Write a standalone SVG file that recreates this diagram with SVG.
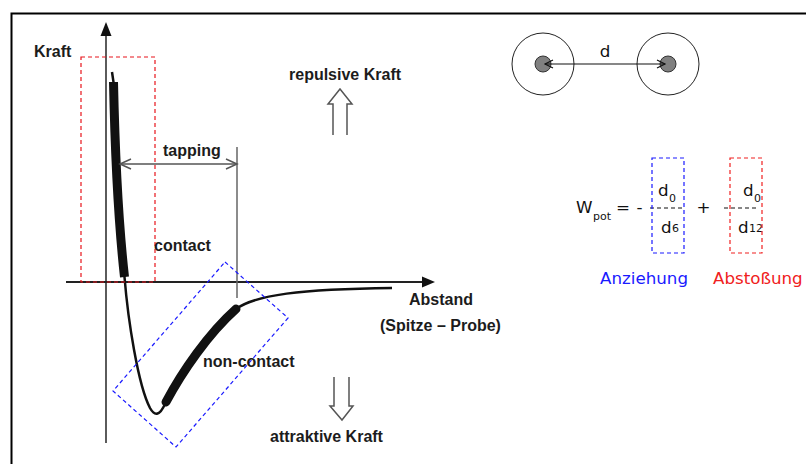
<svg xmlns="http://www.w3.org/2000/svg" width="806" height="464" viewBox="0 0 806 464">
  <style>
    .lbl { font-family: "Liberation Sans", Arial, sans-serif; font-weight: bold; font-size: 16px; fill: #1c1c1c; }
    .f { font-family: "DejaVu Sans", Verdana, sans-serif; font-size: 16.7px; fill: #111; }
    .sm { font-size: 11px; }
    .thin { fill: none; stroke: #555; stroke-width: 1.5; }
    .dash { fill: none; stroke-width: 1.2; stroke-dasharray: 4 3; }
  </style>

  <rect width="806" height="464" fill="#fff"/>
  <!-- frame -->
  <path d="M11.5,464 V13.5 H806" fill="none" stroke="#000" stroke-width="2"/>

  <!-- axes -->
  <g id="axes">
    <line x1="106" y1="34" x2="106" y2="443" stroke="#333" stroke-width="1.6"/>
    <polygon points="106,22 100.5,36 111.5,36" fill="#111"/>
    <line x1="66" y1="282" x2="424" y2="282" stroke="#222" stroke-width="1.8"/>
    <polygon points="435,282 422,276.5 422,287.5" fill="#111"/>
    <text class="lbl" x="34" y="57">Kraft</text>
    <text class="lbl" x="409" y="305">Abstand</text>
    <text class="lbl" x="380" y="331">(Spitze – Probe)</text>
  </g>

  <!-- potential curve -->
  <g id="curve" fill="none" stroke="#111">
    <path d="M112,72 L113.5,82 Q116,200 124.5,277 C128,320 138,385 150,408 C155,417 160,415 165,404 C180,375 205,335 236,309 C255,295 300,289 392,288" stroke-width="2.5"/>
    <path d="M113.5,82 Q116,200 124.5,277" stroke-width="9"/>
    <path d="M166,402 C182,372 208,334 236,309" stroke-width="9" stroke-linecap="round"/>
  </g>

  <!-- contact region -->
  <g id="contact">
    <rect class="dash" x="81" y="57" width="74" height="225" stroke="#e8141c"/>
    <text class="lbl" x="154" y="251">contact</text>
  </g>

  <!-- tapping range -->
  <g id="tapping">
    <line x1="237" y1="147" x2="237" y2="298" stroke="#666" stroke-width="1.5"/>
    <line x1="120" y1="164" x2="237" y2="164" stroke="#555" stroke-width="1.5"/>
    <path class="thin" d="M131,159 L120,164 L131,169 M226,159 L237,164 L226,169"/>
    <text class="lbl" x="163" y="156">tapping</text>
  </g>

  <!-- non-contact region -->
  <g id="non-contact">
    <polygon class="dash" points="225,262 288,318 176,447 113,391" stroke="#1a1aff"/>
    <text class="lbl" x="203" y="367">non-contact</text>
  </g>

  <!-- force direction arrows -->
  <g id="repulsive">
    <text class="lbl" x="289" y="80">repulsive Kraft</text>
    <path class="thin" d="M333,135 V104 H328 L340,89 L352,104 H347 V135"/>
  </g>
  <g id="attractive">
    <path class="thin" d="M334,377 V406 H330 L342,420 L353,406 H349 V377"/>
    <text class="lbl" x="270" y="442">attraktive Kraft</text>
  </g>

  <!-- two atoms at distance d -->
  <g id="atoms">
    <circle cx="543" cy="64" r="31" fill="none" stroke="#222" stroke-width="1"/>
    <circle cx="668" cy="64" r="31" fill="none" stroke="#222" stroke-width="1"/>
    <circle cx="543" cy="64" r="8" fill="#808080" stroke="#333" stroke-width="1"/>
    <circle cx="668" cy="64" r="8" fill="#808080" stroke="#333" stroke-width="1"/>
    <line x1="545" y1="64" x2="665" y2="64" stroke="#111" stroke-width="1.2"/>
    <path d="M553,60 L545,64 L553,68 M657,60 L665,64 L657,68" fill="none" stroke="#111" stroke-width="1.2"/>
    <text class="f" x="605" y="57" text-anchor="middle">d</text>
  </g>

  <!-- Lennard-Jones style potential -->
  <g id="formula">
    <text class="f" x="576" y="213">W</text>
    <text class="f sm" x="593" y="220">pot</text>
    <text class="f" x="623" y="213" text-anchor="middle">=</text>
    <text class="f" x="639.5" y="213" text-anchor="middle">-</text>
    <text class="f" x="703.5" y="213" text-anchor="middle">+</text>
    <path class="dash" d="M650,208 H684 M724,208 H758" stroke="#111"/>
    <text class="f" x="658" y="196">d</text>
    <text class="f sm" x="669" y="202">0</text>
    <text class="f" x="661" y="233">d</text>
    <text class="f sm" x="672" y="231.5">6</text>
    <text class="f" x="743" y="196">d</text>
    <text class="f sm" x="754" y="202">0</text>
    <text class="f" x="738" y="233">d</text>
    <text class="f sm" x="749" y="231.5">12</text>
  </g>
  <g id="attraction-term">
    <rect class="dash" x="652" y="158" width="32" height="95" stroke="#1a1aff"/>
    <text class="f" x="600" y="284" style="fill:#1a1aff">Anziehung</text>
  </g>
  <g id="repulsion-term">
    <rect class="dash" x="730" y="158" width="32" height="95" stroke="#f02020"/>
    <text class="f" x="713" y="284" style="fill:#f02020">Abstoßung</text>
  </g>
</svg>
